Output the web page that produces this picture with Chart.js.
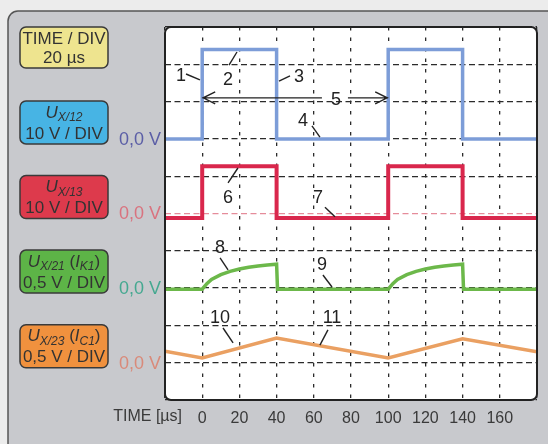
<!DOCTYPE html>
<html>
<head>
<meta charset="utf-8">
<script src="https://cdn.jsdelivr.net/npm/chart.js@4"></script>
<style>
  body { margin: 0; background: #ececec; }
  canvas { display: block; }
</style>
</head>
<body>
<canvas id="osc" width="548" height="444"></canvas>
<script>
// times in µs, trace levels in grid divisions (0 = bottom of screen, 10 = top)
const timeTicks = [0, 20, 40, 60, 80, 100, 120, 140, 160];

const blueT = [-20, 0, 0, 40, 40, 100, 100, 140, 140, 180];
const blueY = [7, 7, 9.4, 9.4, 7, 7, 9.4, 9.4, 7, 7];

const redT = [-20, 0, 0, 40, 40, 100, 100, 140, 140, 180];
const redY = [4.88, 4.88, 6.27, 6.27, 4.88, 4.88, 6.27, 6.27, 4.88, 4.88];

const greenT = [-20, 0, 2.5, 5, 10, 15, 20, 25, 30, 35, 40, 40.5,
                100, 102.5, 105, 110, 115, 120, 125, 130, 135, 140, 140.5, 180];
const greenY = [2.97, 2.97, 3.12, 3.23, 3.36, 3.45, 3.51, 3.56, 3.59, 3.62, 3.64, 2.97,
                2.97, 3.12, 3.23, 3.36, 3.45, 3.51, 3.56, 3.59, 3.62, 3.64, 2.97, 2.97];

const orangeT = [-20, 0, 40, 100, 140, 180];
const orangeY = [1.31, 1.13, 1.66, 1.13, 1.64, 1.29];

// channel zero lines (divisions) and their labels
const zeroLevels = [7, 5, 3, 1];
const chanColors = ['#47b4e4', '#dd3a4c', '#5db447', '#f0913e'];
const zeroColors = ['#5b5ea6', '#d9737f', '#45a890', '#d98a7a'];
const chanTitle = [
  [['U', 'i'], ['X/12', 's']],
  [['U', 'i'], ['X/13', 's']],
  [['U', 'i'], ['X/21', 's'], [' (', 'n'], ['I', 'i'], ['K1', 's'], [')', 'n']],
  [['U', 'i'], ['X/23', 's'], [' (', 'n'], ['I', 'i'], ['C1', 's'], [')', 'n']]
];
const chanScale = ['10 V / DIV', '10 V / DIV', '0,5 V / DIV', '0,5 V / DIV'];

// numbered callouts: label point and leader line, in data units
const noteText = ['1', '2', '3', '4', '5', '6', '7', '8', '9', '10', '11'];
const noteX = [-11.4, 13.9, 52.0, 54.2, 71.9, 13.9, 62.3, 9.6, 64.4, 9.6, 69.8];
const noteY = [8.69, 8.58, 8.66, 7.48, 8.04, 5.42, 5.42, 4.08, 3.62, 2.2, 2.2];
const leadX0 = [-8.7, 14.4, 41.3, 59.0, null, 13.9, 66.0, 9.6, 64.9, 11.2, 67.6];
const leadY0 = [8.74, 8.98, 8.55, 7.35, null, 5.82, 5.17, 3.81, 3.35, 1.93, 1.88];
const leadX1 = [-1.2, 18.7, 47.2, 63.3, null, 19.2, 71.4, 13.9, 69.8, 16.6, 63.3];
const leadY1 = [8.58, 9.33, 8.69, 7.05, null, 6.22, 4.91, 3.49, 3.03, 1.53, 1.47];
const periodFrom = 0, periodTo = 100, periodLevel = 8.1;

const FONT = '"Liberation Sans", Arial, sans-serif';
Chart.defaults.font.family = FONT;

function rich(ctx, parts, cx, cy, size) {
  const fonts = parts.map(p => p[1] === 'n' ? size + 'px ' + FONT :
    p[1] === 'i' ? 'italic ' + size + 'px ' + FONT : 'italic ' + (size - 5) + 'px ' + FONT);
  let w = 0;
  parts.forEach((p, i) => { ctx.font = fonts[i]; w += ctx.measureText(p[0]).width; });
  let x = cx - w / 2;
  ctx.textAlign = 'left';
  ctx.textBaseline = 'middle';
  parts.forEach((p, i) => {
    ctx.font = fonts[i];
    ctx.fillText(p[0], x, p[1] === 's' ? cy + 5 : cy);
    x += ctx.measureText(p[0]).width;
  });
}

function box(ctx, x, y, w, h, fill) {
  ctx.beginPath();
  ctx.roundRect(x, y, w, h, 6);
  ctx.fillStyle = fill;
  ctx.fill();
  ctx.lineWidth = 1.5;
  ctx.strokeStyle = '#3a3a3a';
  ctx.stroke();
}

const panel = {
  id: 'panel',
  beforeDraw(chart) {
    const {ctx, chartArea: a, scales: {y}} = chart;
    ctx.save();
    ctx.fillStyle = '#ececec';
    ctx.fillRect(0, 0, chart.width, chart.height);
    ctx.beginPath();
    ctx.roundRect(8, 11, 620, 520, 10);
    ctx.fillStyle = '#c8c9cd';
    ctx.fill();
    ctx.lineWidth = 1.5;
    ctx.strokeStyle = '#555';
    ctx.stroke();
    ctx.beginPath();
    ctx.roundRect(a.left, a.top, a.width, a.height, 6);
    ctx.fillStyle = '#fff';
    ctx.fill();

    // time base box
    box(ctx, 20, a.top, 88, 41, '#eee48f');
    ctx.fillStyle = '#333';
    rich(ctx, [['TIME / DIV', 'n']], 64, a.top + 12, 17);
    rich(ctx, [['20 µs', 'n']], 64, a.top + 31, 17);

    zeroLevels.forEach((lv, i) => {
      const z = y.getPixelForValue(lv);
      const top = z - 38;
      box(ctx, 20, top, 88, 43, chanColors[i]);
      ctx.fillStyle = '#333';
      rich(ctx, chanTitle[i], 64, top + 12, 17);
      rich(ctx, [[chanScale[i], 'n']], 64, top + 33, 17);
      ctx.fillStyle = zeroColors[i];
      ctx.font = '18px ' + FONT;
      ctx.textAlign = 'right';
      ctx.textBaseline = 'middle';
      ctx.fillText('0,0 V', 161, z + 1);
    });

    ctx.fillStyle = '#3a3a3a';
    ctx.font = '16px ' + FONT;
    ctx.textAlign = 'right';
    ctx.textBaseline = 'middle';
    ctx.fillText('TIME [µs]', 182, a.bottom + 17);
    ctx.restore();
  },
  afterDatasetsDraw(chart) {
    const {ctx, chartArea: a, scales: {x, y}} = chart;
    ctx.save();
    ctx.beginPath();
    ctx.roundRect(a.left, a.top, a.width, a.height, 6);
    ctx.lineWidth = 2;
    ctx.strokeStyle = '#222';
    ctx.stroke();

    ctx.strokeStyle = '#222';
    ctx.fillStyle = '#222';
    ctx.lineWidth = 1.4;
    ctx.font = '18px ' + FONT;
    ctx.textAlign = 'center';
    ctx.textBaseline = 'middle';
    noteText.forEach((t, i) => {
      ctx.fillText(t, x.getPixelForValue(noteX[i]), y.getPixelForValue(noteY[i]));
      if (leadX0[i] === null) return;
      ctx.beginPath();
      ctx.moveTo(x.getPixelForValue(leadX0[i]), y.getPixelForValue(leadY0[i]));
      ctx.lineTo(x.getPixelForValue(leadX1[i]), y.getPixelForValue(leadY1[i]));
      ctx.stroke();
    });

    // period arrow with a gap for label 5
    const ay = y.getPixelForValue(periodLevel);
    const x0 = x.getPixelForValue(periodFrom), x1 = x.getPixelForValue(periodTo);
    const gx = x.getPixelForValue(noteX[4]);
    ctx.beginPath();
    ctx.moveTo(x0, ay); ctx.lineTo(gx - 14, ay);
    ctx.moveTo(gx + 12, ay); ctx.lineTo(x1, ay);
    ctx.moveTo(x0 + 13, ay - 6); ctx.lineTo(x0 + 1, ay); ctx.lineTo(x0 + 13, ay + 6);
    ctx.moveTo(x1 - 13, ay - 6); ctx.lineTo(x1 - 1, ay); ctx.lineTo(x1 - 13, ay + 6);
    ctx.stroke();
    ctx.restore();
  }
};

const pts = (t, v) => t.map((tx, i) => ({x: tx, y: v[i]}));

new Chart(document.getElementById('osc'), {
  type: 'line',
  data: {
    datasets: [
      {data: pts(blueT, blueY), borderColor: '#7d9dd8', borderWidth: 3.5},
      {data: pts(redT, redY), borderColor: '#d9274c', borderWidth: 4},
      {data: pts(greenT, greenY), borderColor: '#6cb84a', borderWidth: 3.5},
      {data: pts(orangeT, orangeY), borderColor: '#eaa062', borderWidth: 3.5}
    ]
  },
  options: {
    responsive: false,
    animation: false,
    devicePixelRatio: 1,
    layout: {padding: {top: 27, right: 11, left: 0, bottom: 0}},
    elements: {point: {radius: 0}, line: {tension: 0}},
    plugins: {legend: {display: false}, tooltip: {enabled: false}},
    scales: {
      x: {
        type: 'linear', min: -20, max: 180,
        afterFit: s => { s.height = 44; },
        grid: {drawTicks: false, color: '#2b2b2b', lineWidth: 1.3},
        border: {display: false, dash: [3.5, 7]},
        ticks: {
          stepSize: 20, padding: 9, autoSkip: false, maxRotation: 0,
          color: '#3a3a3a', font: {size: 16},
          callback: v => timeTicks.includes(v) ? String(v) : ''
        }
      },
      y: {
        min: 0, max: 10,
        afterFit: s => { s.width = 165; },
        ticks: {display: false, stepSize: 1},
        grid: {
          drawTicks: false, lineWidth: 1.3,
          color: c => c.tick && c.tick.value === 5 ? '#e58c9a' : '#2b2b2b'
        },
        border: {display: false, dash: [6, 3.5]}
      }
    }
  },
  plugins: [panel]
});
</script>
</body>
</html>
